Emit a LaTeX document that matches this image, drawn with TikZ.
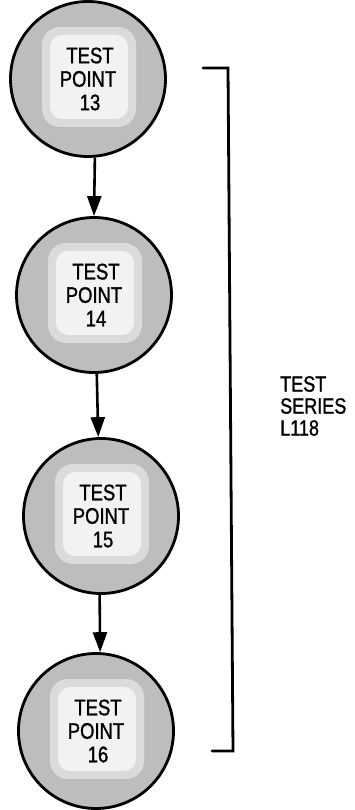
\documentclass[tikz,border=0pt]{standalone}
\usepackage{fontspec}
\setmainfont[FakeStretch=0.82,FakeBold=1.2]{Liberation Sans}
\usetikzlibrary{arrows.meta}
\begin{document}
\begin{tikzpicture}[x=1pt,y=-1pt,
  tp/.style={circle, draw, line width=2.8pt, fill=black!26, minimum size=155pt,
    inner sep=0pt, align=center, font=\fontsize{22.5}{23.5}\selectfont,
    path picture={
      \fill[black!14,rounded corners=18pt]
        ([shift={(-46pt,-48pt)}]path picture bounding box.center) rectangle
        ([shift={(48pt,52pt)}]path picture bounding box.center);
      \fill[black!5,rounded corners=12pt]
        ([shift={(-38pt,-40pt)}]path picture bounding box.center) rectangle
        ([shift={(40pt,44pt)}]path picture bounding box.center);}},
  flow/.style={line width=2.6pt, -{Triangle[length=20pt,width=14pt]}},
  brk/.style={line width=2.8pt, line cap=round, line join=miter},
  lbl/.style={align=left, font=\fontsize{22}{22}\selectfont, inner sep=0pt}]
\useasboundingbox (0,0) rectangle (354,810);

\node[tp] (c1) at (88,79)  {\hspace*{4pt}TEST\\POINT\\\hspace*{4pt}13};
\node[tp] (c2) at (94,295) {\hspace*{4pt}TEST\\POINT\\\hspace*{4pt}14};
\node[tp] (c3) at (101,516) {\hspace*{4pt}TEST\\POINT\\\hspace*{4pt}15};
\node[tp] (c4) at (96,731) {\hspace*{4pt}TEST\\POINT\\\hspace*{4pt}16};

\draw[flow] (c1.-85) -- (c2.north);
\draw[flow] (c2.-88) -- (c3.92);
\draw[flow] (c3.-91) -- (c4.87);

\coordinate (b1) at (203,68);
\coordinate (b2) at (228,68);
\coordinate (b3) at (233,751);
\coordinate (b4) at (212,751);
\draw[brk] (b1) -- (b2) -- (b3) -- (b4);

\node[lbl, anchor=west] (series) at (280,406) {TEST\\SERIES\\L118};
\end{tikzpicture}
\end{document}
